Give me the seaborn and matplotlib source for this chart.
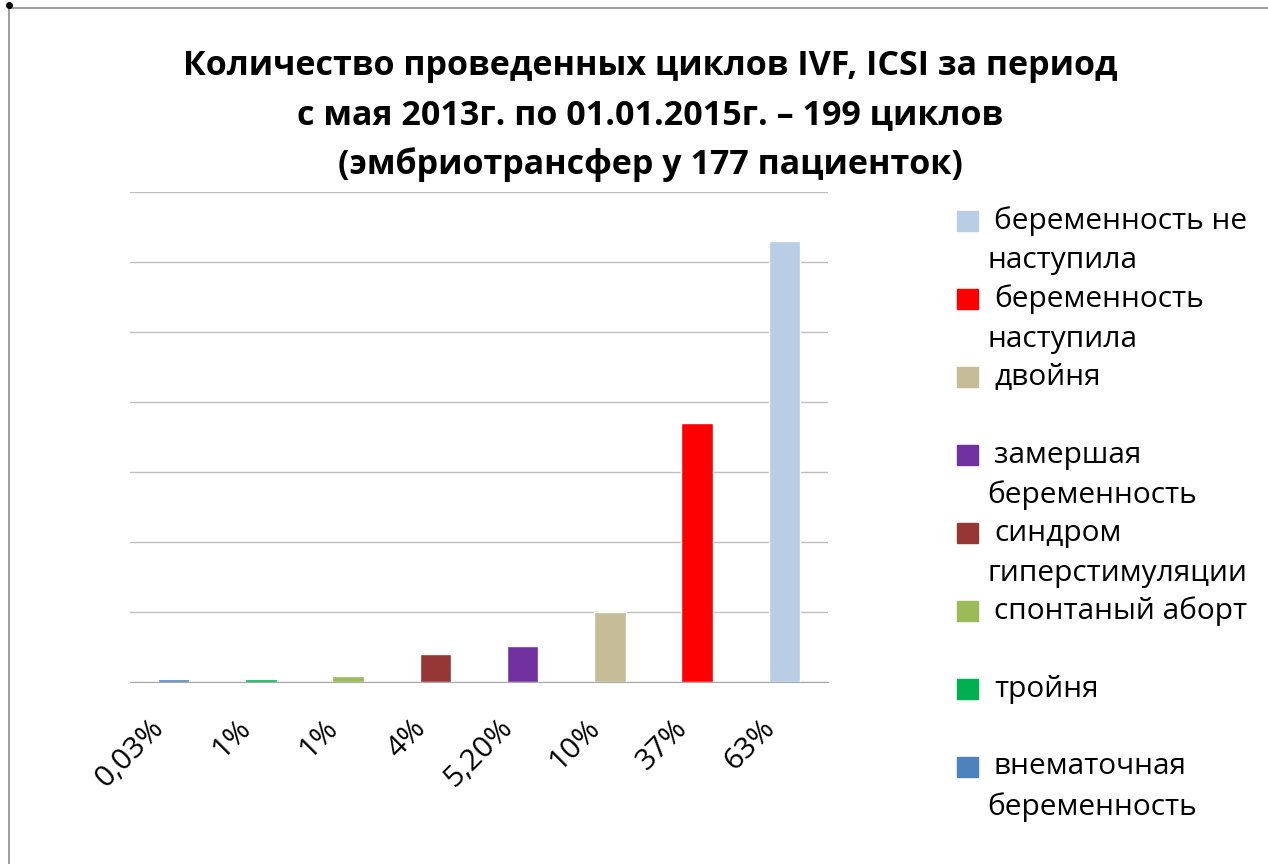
import matplotlib
matplotlib.use("Agg")
import matplotlib.pyplot as plt
import matplotlib.transforms as mtransforms
import seaborn as sns
import pandas as pd
from matplotlib.patches import Rectangle
from matplotlib.lines import Line2D

# ---------------------------------------------------------
# Data
# ---------------------------------------------------------
categories = ["внематочная беременность", "тройня", "спонтаный аборт",
              "синдром гиперстимуляции", "замершая беременность", "двойня",
              "беременность наступила", "беременность не наступила"]
values = [0.4, 0.4, 0.9, 4.0, 5.2, 10.0, 37.0, 63.0]
tick_labels = ["0,03%", "1%", "1%", "4%", "5,20%", "10%", "37%", "63%"]
colors = ["#4F81BD", "#00B050", "#9BBB59", "#953735", "#7030A0",
          "#C4BD97", "#FF0000", "#B9CDE5"]
# legend text, wrapped as in the original (top to bottom)
legend_lines = [
    ("беременность не", "наступила"),
    ("беременность", "наступила"),
    ("двойня", ""),
    ("замершая", "беременность"),
    ("синдром", "гиперстимуляции"),
    ("спонтаный аборт", ""),
    ("тройня", ""),
    ("внематочная", "беременность"),
]
title_lines = ["Количество проведенных циклов IVF, ICSI за период",
               "с мая 2013г. по 01.01.2015г. – 199 циклов",
               "(эмбриотрансфер у 177 пациенток)"]

df = pd.DataFrame({"category": categories, "value": values})

# ---------------------------------------------------------
# Figure
# ---------------------------------------------------------
sns.set_style("white")
plt.rcParams["font.family"] = ["Open Sans", "DejaVu Sans"]
plt.rcParams["text.color"] = "black"
plt.rcParams["xtick.color"] = "black"

W, H = 1268, 864
fig = plt.figure(figsize=(W / 100, H / 100), dpi=100)
ax = fig.add_axes([130 / W, 1 - 682 / H, (828 - 130) / W, (682 - 192) / H])

sns.barplot(data=df, x="category", y="value", hue="category",
            palette=colors, order=categories, hue_order=categories,
            dodge=False, width=0.36, legend=False, ax=ax, saturation=1)

ax.set_xlim(-0.5, len(categories) - 0.5)
ax.set_ylim(0, 70)
ax.set_yticks(range(0, 71, 10))
ax.yaxis.grid(True, color="#BFBFBF", linewidth=1)
ax.set_axisbelow(True)
ax.set_yticklabels([])
ax.tick_params(axis="y", length=0)
ax.tick_params(axis="x", length=0, pad=30)
ax.set_xticks(range(len(categories)))
ax.set_xticklabels(tick_labels, rotation=45, ha="right", va="center",
                   rotation_mode="anchor", fontsize=21.5, color="black")
# nudge the slanted labels left, as in the original
shift = mtransforms.ScaledTranslation(-14 / 100, 0, fig.dpi_scale_trans)
for lab in ax.get_xticklabels():
    lab.set_transform(lab.get_transform() + shift)
for s in ["left", "right", "top"]:
    ax.spines[s].set_visible(False)
ax.spines["bottom"].set_color("#A6A6A6")
ax.spines["bottom"].set_zorder(0.6)
ax.set_xlabel("")
ax.set_ylabel("")

# title
for i, line in enumerate(title_lines):
    fig.text(650 / W, 1 - (66 + 49.5 * i) / H, line, ha="center", va="center",
             fontsize=24.5, fontweight="bold", color="black")

# manual legend (top entry = tallest bar)
for k, (l1, l2) in enumerate(legend_lines):
    yc = 221 + 78 * k
    c = colors[::-1][k]
    fig.patches.append(Rectangle((957 / W, 1 - (yc + 10) / H), 21 / W, 20 / H,
                                 transform=fig.transFigure, color=c))
    fig.text(994 / W, 1 - yc / H, l1, ha="left", va="center", fontsize=21.5,
             color="black")
    if l2:
        fig.text(987 / W, 1 - (yc + 40) / H, l2, ha="left", va="center",
                 fontsize=21.5, color="black")

# chart frame
fig.lines.append(Line2D([9 / W, 9 / W], [0, 1 - 8 / H], transform=fig.transFigure,
                        color="#8C8C8C", linewidth=1.2))
fig.lines.append(Line2D([9 / W, 1], [1 - 8 / H, 1 - 8 / H], transform=fig.transFigure,
                        color="#8C8C8C", linewidth=1.2))
fig.lines.append(Line2D([9 / W], [1 - 5 / H], transform=fig.transFigure,
                        marker="o", markersize=4, color="black"))

fig.savefig("out.png", dpi=100)
